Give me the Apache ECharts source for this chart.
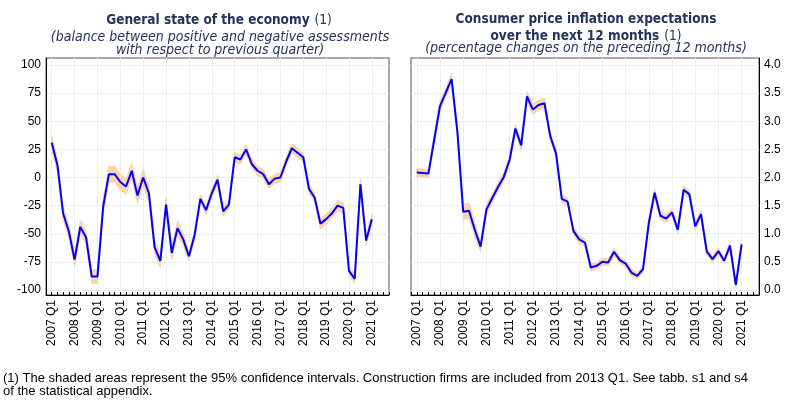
<!DOCTYPE html>
<html>
<head>
<meta charset="utf-8">
<script src="https://cdn.jsdelivr.net/npm/echarts@6/dist/echarts.min.js"></script>
<style>html,body{margin:0;padding:0;background:#fff;}#c{width:800px;height:400px;}</style>
</head>
<body>
<div id="c"></div>
<script>
// Quarterly categories: axis runs 2006 Q4 .. 2021 Q4, data 2007 Q1 .. 2021 Q1
const years = [2006, 2007, 2008, 2009, 2010, 2011, 2012, 2013, 2014, 2015, 2016, 2017, 2018, 2019, 2020, 2021];
const quarterNames = ['Q1', 'Q2', 'Q3', 'Q4'];

// General state of the economy (balance)
const economy = [31, 11, -32, -48, -73, -44, -53, -88, -88, -26, 3, 3, -4, -8, 6, -16,
  0, -14, -62, -74, -24, -67, -45, -55, -70, -51, -19, -29, -14, -2, -30, -24,
  18, 16, 25, 12, 6, 3, -6, -1, 0, 14, 26, 22, 18, -10, -18, -41,
  -37, -32, -25, -27, -83, -90, -6, -56, -37];
// 95% confidence half-width (balance points)
const economyCI = [6, 6, 6, 6, 6, 6, 6, 6, 6, 7, 7, 7, 7, 7, 7, 7,
  7, 7, 6, 6, 6, 6, 6, 6, 4, 4, 4, 4, 4, 4, 4, 4,
  4, 4, 4, 4, 4, 4, 4, 4, 4, 4, 4, 4, 4, 4, 4, 4.5,
  4.5, 4.5, 4.5, 4.5, 4.5, 4.5, 5, 4.5, 4.5];

// Consumer price inflation expectations (%)
const inflation = [2.09, 2.08, 2.07, 2.67, 3.27, 3.51, 3.75, 2.81, 1.39, 1.41, 1.07, 0.77, 1.43, 1.63, 1.83, 2.01,
  2.31, 2.87, 2.57, 3.44, 3.21, 3.29, 3.32, 2.74, 2.43, 1.62, 1.57, 1.05, 0.90, 0.84, 0.40, 0.43,
  0.50, 0.49, 0.68, 0.53, 0.47, 0.31, 0.25, 0.37, 1.19, 1.73, 1.32, 1.27, 1.38, 1.07, 1.78, 1.70,
  1.13, 1.35, 0.68, 0.55, 0.69, 0.52, 0.79, 0.09, 0.81];
const inflationCI = [0.07, 0.07, 0.07, 0.08, 0.09, 0.09, 0.1, 0.1, 0.14, 0.14, 0.12, 0.09, 0.09, 0.08, 0.08, 0.08,
  0.08, 0.08, 0.08, 0.09, 0.09, 0.09, 0.09, 0.08, 0.08, 0.07, 0.07, 0.07, 0.07, 0.07, 0.06, 0.06,
  0.06, 0.06, 0.06, 0.06, 0.06, 0.06, 0.06, 0.06, 0.07, 0.07, 0.07, 0.07, 0.07, 0.07, 0.07, 0.07,
  0.07, 0.07, 0.06, 0.06, 0.06, 0.06, 0.07, 0.06, 0.07];

const yTicksL = [-100, -75, -50, -25, 0, 25, 50, 75, 100];
const yTicksR = [0, 0.5, 1.0, 1.5, 2.0, 2.5, 3.0, 3.5, 4.0];

const categories = [];
years.forEach(y => quarterNames.forEach(q => {
  if (y === 2006 && q !== 'Q4') return;
  categories.push(y + ' ' + q);
}));
const dataCats = categories.slice(1, 1 + economy.length);

const isQ1 = (idx, val) => (typeof val === 'string' ? val : categories[idx]).endsWith('Q1');

const titleColor = '#25325a';
const narrow = '"Liberation Sans Narrow", "DejaVu Sans Condensed", "Arial Narrow", sans-serif';
const sans = '"Liberation Sans", Arial, sans-serif';

function xAxis(gi) {
  return {
    type: 'category', gridIndex: gi, data: categories, boundaryGap: false,
    axisLine: { onZero: false, lineStyle: { color: '#000', width: 1 } },
    axisTick: { show: true, inside: true, length: 3, interval: 0, lineStyle: { color: '#000' } },
    axisLabel: { rotate: 90, interval: isQ1, color: '#000', fontSize: 12, fontFamily: sans, margin: 5 },
    splitLine: { show: true, interval: isQ1, lineStyle: { color: '#e8f0f1', width: 1 } }
  };
}
function yAxis(gi, min, max, ticks, pos, fmt) {
  return {
    type: 'value', gridIndex: gi, min: min, max: max, position: pos,
    axisLine: { show: true, onZero: false, lineStyle: { color: '#000', width: 1 } },
    axisTick: { show: false, customValues: ticks },
    axisLabel: { customValues: ticks, color: '#000', fontSize: 12, fontFamily: sans, margin: 5, formatter: fmt },
    splitLine: { show: true, lineStyle: { color: '#e8f0f1', width: 1 } }
  };
}
function bandSeries(gi, vals, ci) {
  return [
    { type: 'custom', xAxisIndex: gi, yAxisIndex: gi, silent: true, clip: true,
      data: [[1, vals[0]]],
      renderItem: (params, api) => {
        const pts = [];
        vals.forEach((v, i) => pts.push(api.coord([i + 1, v + ci[i]])));
        for (let i = vals.length - 1; i >= 0; i--) pts.push(api.coord([i + 1, vals[i] - ci[i]]));
        return { type: 'polygon', shape: { points: pts },
                 style: { fill: '#fcd4b0', stroke: '#fcd4b0', lineWidth: 1 } };
      } },
    { type: 'line', xAxisIndex: gi, yAxisIndex: gi, symbol: 'none', silent: true,
      lineStyle: { color: '#0000ff', width: 2 }, data: vals.map((v, i) => [dataCats[i], v]) }
  ];
}

const chart = echarts.init(document.getElementById('c'));
chart.setOption({
  animation: false,
  backgroundColor: '#fff',
  title: [
    { left: 219, top: 11, textAlign: 'center', padding: 0,
      text: '{b|General state of the economy} {n|(1)}',
      textStyle: { rich: { b: { fontFamily: narrow, fontWeight: 'bold', fontSize: 13.5, color: titleColor, lineHeight: 17 },
                          n: { fontFamily: narrow, fontWeight: 'normal', fontSize: 13.5, color: titleColor, lineHeight: 17 } } } },
    { left: 220, top: 30.5, textAlign: 'center', padding: 0,
      text: '(balance between positive and negative assessments\nwith respect to previous quarter)',
      textStyle: { fontFamily: narrow, fontStyle: 'italic', fontWeight: 'normal', fontSize: 14, color: titleColor, lineHeight: 13.5 } },
    { left: 586, top: 11, textAlign: 'center', padding: 0,
      text: '{b|Consumer price inflation expectations}\n{b|over the next 12 months} {n|(1)}',
      textStyle: { rich: { b: { fontFamily: narrow, fontWeight: 'bold', fontSize: 13.5, color: titleColor, lineHeight: 16 },
                          n: { fontFamily: narrow, fontWeight: 'normal', fontSize: 13.5, color: titleColor, lineHeight: 16 } } } },
    { left: 586, top: 41, textAlign: 'center', padding: 0,
      text: '(percentage changes on the preceding 12 months)',
      textStyle: { fontFamily: narrow, fontStyle: 'italic', fontWeight: 'normal', fontSize: 14, color: titleColor, lineHeight: 14 } },
    { left: 3, top: 372, padding: 0,
      text: '(1) The shaded areas represent the 95% confidence intervals. Construction firms are included from 2013 Q1. See tabb. s1 and s4\nof the statistical appendix.',
      textStyle: { fontFamily: sans, fontWeight: 'normal', fontSize: 13, color: '#000', lineHeight: 13 } }
  ],
  grid: [
    { left: 46, right: 411, top: 58, bottom: 105, show: true, borderColor: '#555', borderWidth: 1, backgroundColor: 'transparent' },
    { left: 411, right: 41, top: 58, bottom: 105, show: true, borderColor: '#555', borderWidth: 1, backgroundColor: 'transparent' }
  ],
  xAxis: [xAxis(0), xAxis(1)],
  yAxis: [
    yAxis(0, -104.4, 106.2, yTicksL, 'left', v => String(v)),
    yAxis(1, -0.089, 4.124, yTicksR, 'right', v => v.toFixed(1))
  ],
  series: [].concat(bandSeries(0, economy, economyCI), bandSeries(1, inflation, inflationCI))
});
</script>
</body>
</html>
